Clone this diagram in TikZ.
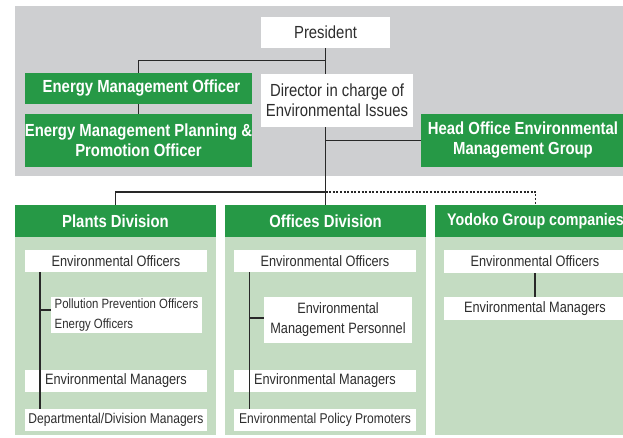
\documentclass[tikz,border=0pt]{standalone}
\usepackage{fontspec}
\setmainfont{Liberation Sans}[FakeStretch=0.85]
\definecolor{bggray}{RGB}{206,207,209}
\definecolor{dgreen}{RGB}{38,153,70}
\definecolor{lgreen}{RGB}{196,220,194}
\definecolor{txt}{RGB}{45,45,45}
\definecolor{ln}{RGB}{40,40,40}
\begin{document}
\begin{tikzpicture}[x=1pt,y=-1pt,
  wbox/.style={fill=white,inner sep=0pt,align=center,text=txt,font=\fontsize{17.5}{20}\selectfont},
  gbox/.style={fill=dgreen,inner sep=0pt,align=center,text=white,font=\fontsize{17.5}{20}\selectfont\bfseries},
  ibox/.style={fill=white,inner sep=0pt,align=center,text=txt,minimum width=182pt,minimum height=22pt,font=\fontsize{15}{20}\selectfont},
  panel/.style={fill=lgreen,minimum width=201pt,minimum height=230pt,inner sep=0pt},
  phead/.style={fill=dgreen,minimum width=201pt,minimum height=32pt,inner sep=0pt,text=white,font=\fontsize{17.5}{20}\selectfont\bfseries},
  conn/.style={draw=ln,line width=1.1pt},
  dconn/.style={draw=ln,line width=1.1pt,dash pattern=on 2pt off 1.6pt}]
\useasboundingbox (0,0) rectangle (623,438);
\clip (0,0) rectangle (623,438);
\fill[bggray] (15,6) rectangle (640,176);

% top boxes
\node[wbox,minimum width=129pt,minimum height=31pt] (president) at (325.5,32.5) {President};
\node[wbox,minimum width=152pt,minimum height=53pt] (director) at (337,100.5) {Director in charge of\\Environmental Issues};
\node[gbox,minimum width=227pt,minimum height=31pt] (emo) at (138.5,88.5) {\hspace{6pt}Energy Management Officer};
\node[gbox,minimum width=227pt,minimum height=53pt] (emppo) at (138.5,140.5) {Energy Management Planning \&\\Promotion Officer};
\node[gbox,minimum width=204pt,minimum height=53pt] (head) at (523,140.5) {Head Office Environmental\\Management Group};

% panels
\node[panel] (plants) at (115.5,320) {};
\node[panel] (offices) at (325.5,320) {};
\node[panel] (yodoko) at (535.5,320) {};
\node[phead] (plantshead) at (115.5,221) {Plants Division};
\node[phead] (offhead) at (325.5,221) {Offices Division};
\node[phead,font=\fontsize{16.8}{20}\selectfont\bfseries] (yodhead) at (535.5,221) {Yodoko Group companies};

\coordinate (k1) at (325.5,60.7);
\coordinate (j) at (325.5,192);

% connectors top
\draw[conn] (president.south) -- (director.north -| president.south);
\draw[conn] (director.south -| president.south) -- (j);
\draw[conn] (k1) -| (emo.north);
\draw[conn] (emo.south) -- (emppo.north);
\draw[conn] (head.west) -- (head.west -| president.south);
\draw[conn] (j) -| (plantshead.north);
\draw[conn] (j) -- (offhead.north);
\draw[dconn] (j) -| (yodhead.north);

% plants inner
\node[ibox] (peo) at (116,261) {Environmental Officers};
\node[ibox,minimum width=151pt,minimum height=36pt,align=left,font=\fontsize{13.4}{20}\selectfont] (ppo) at (126.5,315) {Pollution Prevention Officers\\Energy Officers};
\node[ibox] (pem) at (116,381) {Environmental Managers};
\node[ibox,font=\fontsize{14.2}{20}\selectfont] (pdm) at (116,420) {Departmental/Division Managers};
\draw[conn] ([xshift=-76pt]peo.south) -- ([xshift=-76pt]pdm.north);
\draw[conn] ([yshift=5pt]ppo.west) -- ++(-11,0);

% offices inner
\node[ibox] (oeo) at (325,261) {Environmental Officers};
\node[ibox,minimum width=148pt,minimum height=46pt] (oemp) at (338,320) {Environmental\\Management Personnel};
\node[ibox] (oem) at (325,381) {Environmental Managers};
\node[ibox,font=\fontsize{14.2}{20}\selectfont] (opp) at (325,420) {Environmental Policy Promoters};
\draw[conn] ([xshift=-75.7pt]oeo.south) -- ([xshift=-75.7pt]opp.north);
\draw[conn] ([yshift=2pt]oemp.west) -- ++(-14.7,0);

% yodoko inner
\node[ibox,minimum height=23pt] (yeo) at (535,261.5) {Environmental Officers};
\node[ibox,minimum height=23pt] (yem) at (535,308.5) {Environmental Managers};
\draw[conn] (yeo.south) -- (yem.north);
\end{tikzpicture}
\end{document}
